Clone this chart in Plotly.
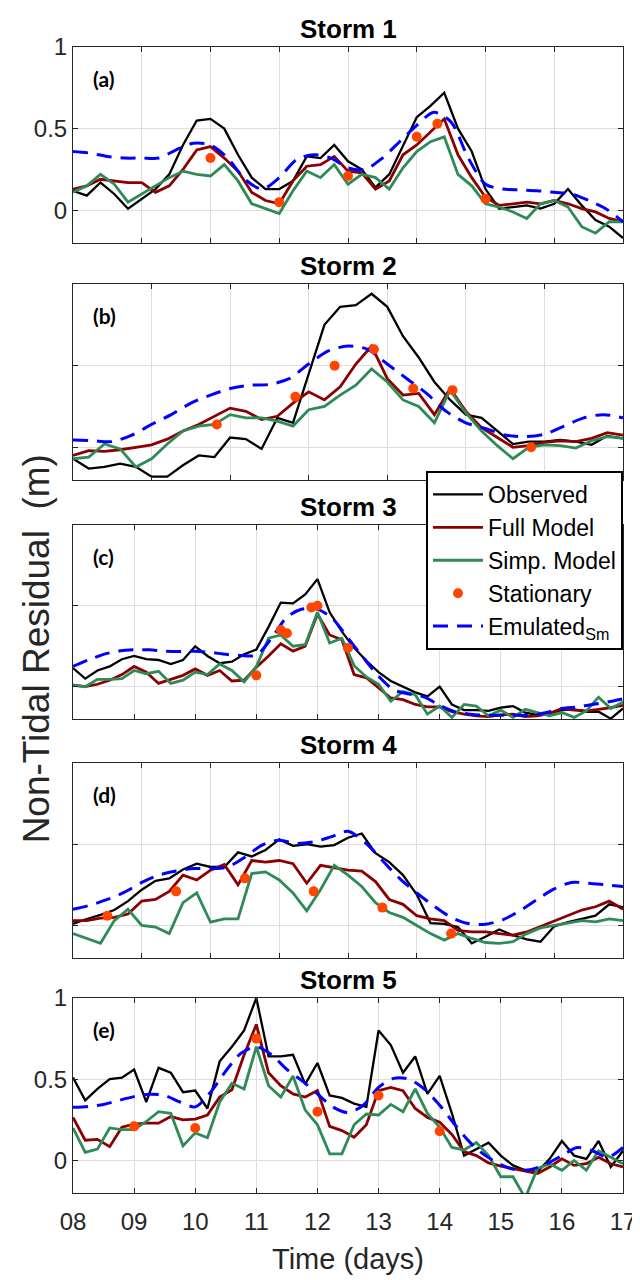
import numpy as np
import plotly.graph_objects as go

# ---------------- data ----------------
storm_titles = ["Storm 1", "Storm 2", "Storm 3", "Storm 4", "Storm 5"]
panel_labels = ["(a)", "(b)", "(c)", "(d)", "(e)"]
durations = [8, 7, 9, 8, 9]
start_days = [0, 0, 0, 0, 8]
xtick_labels = ["08", "09", "10", "11", "12", "13", "14", "15", "16", "17"]
ytick_vals = [0, 0.5, 1]
ytick_text = ["0", "0.5", "1"]

# Storm 1 (0.2-day samples; emulated 0.25-day samples)
obs1 = [0.12, 0.09, 0.17, 0.10, 0.01, 0.07, 0.13, 0.22, 0.40, 0.55, 0.56, 0.50, 0.34, 0.20, 0.13, 0.13, 0.18, 0.33, 0.32, 0.40,
        0.30, 0.25, 0.14, 0.22, 0.40, 0.57, 0.64, 0.72, 0.50, 0.36, 0.13, 0.01, 0.02, 0.03, 0.01, 0.04, 0.13, 0.03, -0.06, -0.10, -0.17]
full1 = [0.13, 0.15, 0.19, 0.18, 0.17, 0.17, 0.11, 0.15, 0.25, 0.37, 0.39, 0.32, 0.24, 0.11, 0.06, 0.04, 0.18, 0.27, 0.28, 0.33,
         0.24, 0.23, 0.13, 0.18, 0.34, 0.40, 0.48, 0.56, 0.34, 0.20, 0.08, 0.03, 0.04, 0.05, 0.04, 0.06, 0.04, 0.01, -0.01, -0.05, -0.07]
simp1 = [0.11, 0.15, 0.22, 0.16, 0.05, 0.10, 0.15, 0.20, 0.24, 0.22, 0.21, 0.28, 0.18, 0.04, 0.01, -0.02, 0.12, 0.24, 0.20, 0.28,
         0.16, 0.22, 0.20, 0.13, 0.26, 0.36, 0.42, 0.45, 0.22, 0.15, 0.04, 0.02, -0.01, -0.05, 0.04, 0.06, 0.02, -0.10, -0.14, -0.07, -0.07]
emu1 = [0.36, 0.35, 0.33, 0.32, 0.32, 0.32, 0.37, 0.41, 0.40, 0.32, 0.19, 0.13, 0.20, 0.31, 0.34, 0.32, 0.26, 0.25, 0.32, 0.42,
        0.52, 0.60, 0.54, 0.32, 0.16, 0.13, 0.125, 0.12, 0.11, 0.10, 0.06, 0.01, -0.07]
stat1_x = [2.0, 3.0, 4.0, 5.0, 5.3, 6.0]
stat1_y = [0.32, 0.05, 0.21, 0.45, 0.53, 0.07]

# Storm 2
obs2 = [-0.07, -0.13, -0.12, -0.10, -0.12, -0.18, -0.18, -0.11, -0.05, -0.06, 0.06, 0.05, -0.01, 0.18, 0.15, 0.45, 0.75, 0.86,
        0.87, 0.94, 0.86, 0.68, 0.55, 0.40, 0.29, 0.20, 0.18, 0.10, 0.02, 0.035, 0.035, 0.045, 0.035, 0.015, 0.07, 0.055]
full2 = [-0.05, -0.02, -0.025, -0.015, 0.0, 0.015, 0.05, 0.10, 0.14, 0.19, 0.24, 0.22, 0.17, 0.19, 0.27, 0.34, 0.29, 0.37,
         0.51, 0.62, 0.42, 0.32, 0.33, 0.20, 0.36, 0.22, 0.12, 0.06, 0.00, 0.01, 0.03, 0.04, 0.035, 0.055, 0.09, 0.075]
simp2 = [-0.07, -0.06, 0.02, -0.01, -0.12, -0.07, 0.02, 0.10, 0.13, 0.14, 0.20, 0.18, 0.18, 0.16, 0.13, 0.23, 0.25, 0.32,
         0.38, 0.48, 0.40, 0.29, 0.25, 0.15, 0.35, 0.21, 0.10, 0.01, -0.07, 0.00, 0.015, 0.01, -0.005, 0.04, 0.065, 0.055]
emu2 = [0.045, 0.04, 0.035, 0.075, 0.14, 0.20, 0.27, 0.32, 0.36, 0.38, 0.385, 0.42, 0.51, 0.59, 0.62, 0.60, 0.51, 0.42, 0.33,
        0.22, 0.15, 0.115, 0.075, 0.065, 0.08, 0.13, 0.18, 0.20, 0.18]
stat2_x = [1.83, 2.83, 3.33, 3.83, 4.33, 4.83, 5.83]
stat2_y = [0.14, 0.31, 0.50, 0.60, 0.36, 0.35, 0.0]

# Storm 3
obs3 = [0.115, 0.05, 0.10, 0.125, 0.17, 0.19, 0.17, 0.165, 0.14, 0.165, 0.25, 0.19, 0.145, 0.155, 0.20, 0.23, 0.37, 0.52,
        0.515, 0.57, 0.665, 0.46, 0.34, 0.24, 0.16, 0.09, 0.035, 0.0, -0.035, -0.06, 0.0, -0.11, -0.145, -0.145, -0.15, -0.13,
        -0.12, -0.16, -0.175, -0.165, -0.145, -0.14, -0.155, -0.155, -0.198, -0.135]
full3 = [0.01, 0.0, 0.015, 0.04, 0.075, 0.125, 0.09, 0.02, 0.045, 0.07, 0.11, 0.07, 0.10, 0.035, 0.04, 0.12, 0.19, 0.265,
         0.22, 0.25, 0.45, 0.32, 0.29, 0.075, 0.055, -0.01, -0.07, -0.08, -0.11, -0.125, -0.125, -0.155, -0.17, -0.18, -0.185,
         -0.175, -0.17, -0.185, -0.18, -0.165, -0.135, -0.145, -0.15, -0.14, -0.13, -0.115]
simp3 = [0.01, 0.0, 0.045, 0.045, 0.05, 0.10, 0.08, 0.095, 0.02, 0.04, 0.09, 0.075, 0.14, 0.10, 0.03, 0.125, 0.30, 0.32,
         0.25, 0.26, 0.46, 0.27, 0.30, 0.13, 0.06, 0.015, -0.09, -0.03, -0.05, -0.17, -0.12, -0.19, -0.11, -0.12, -0.18,
         -0.145, -0.19, -0.14, -0.16, -0.18, -0.16, -0.19, -0.15, -0.065, -0.135, -0.095]
emu3 = [0.125, 0.165, 0.20, 0.22, 0.228, 0.228, 0.22, 0.218, 0.219, 0.212, 0.20, 0.193, 0.195, 0.30, 0.43, 0.48, 0.48, 0.42,
        0.30, 0.18, 0.065, -0.02, -0.045, -0.065, -0.115, -0.155, -0.17, -0.177, -0.177, -0.177, -0.177, -0.16, -0.135,
        -0.125, -0.11, -0.095, -0.075]
stat3_x = [3.0, 3.4, 3.5, 3.9, 4.0, 4.5]
stat3_y = [0.07, 0.35, 0.33, 0.49, 0.50, 0.24]

# Storm 4
obs4 = [0.01, 0.04, 0.065, 0.095, 0.15, 0.22, 0.275, 0.29, 0.345, 0.38, 0.36, 0.36, 0.45, 0.425, 0.465, 0.53, 0.49, 0.50,
        0.485, 0.495, 0.54, 0.566, 0.445, 0.39, 0.31, 0.19, 0.015, 0.01, -0.01, -0.11, -0.07, -0.025, -0.06, -0.085, -0.10,
        -0.005, 0.02, 0.04, 0.06, 0.13, 0.113]
full4 = [0.03, 0.03, 0.045, 0.05, 0.07, 0.15, 0.16, 0.21, 0.31, 0.28, 0.34, 0.375, 0.25, 0.40, 0.39, 0.40, 0.38, 0.26, 0.37,
         0.355, 0.34, 0.335, 0.27, 0.16, 0.13, 0.06, 0.04, 0.03, -0.03, -0.04, -0.04, -0.05, -0.06, -0.04, -0.005, 0.03,
         0.065, 0.095, 0.115, 0.15, 0.10]
simp4 = [-0.05, -0.08, -0.11, 0.03, 0.10, 0.0, -0.01, -0.05, 0.14, 0.20, 0.02, 0.04, 0.04, 0.32, 0.33, 0.28, 0.20, 0.09, 0.22,
         0.37, 0.31, 0.24, 0.14, 0.08, 0.05, 0.0, -0.05, -0.09, -0.05, -0.08, -0.105, -0.11, -0.10, -0.05, -0.015, 0.0, 0.015,
         0.03, 0.022, 0.04, 0.03]
emu4 = [0.10, 0.125, 0.16, 0.205, 0.265, 0.31, 0.335, 0.35, 0.35, 0.36, 0.42, 0.495, 0.525, 0.505, 0.515, 0.545, 0.58, 0.51,
        0.40, 0.29, 0.20, 0.12, 0.05, 0.012, 0.008, 0.035, 0.09, 0.16, 0.225, 0.265, 0.26, 0.25, 0.24]
stat4_x = [0.5, 1.5, 2.5, 3.5, 4.5, 5.5]
stat4_y = [0.06, 0.21, 0.29, 0.21, 0.11, -0.05]

# Storm 5 (days 08 - 17)
obs5 = [0.51, 0.37, 0.44, 0.50, 0.51, 0.56, 0.36, 0.57, 0.54, 0.42, 0.43, 0.32, 0.61, 0.70, 0.80, 1.0, 0.64, 0.64, 0.65, 0.47,
        0.60, 0.40, 0.385, 0.35, 0.33, 0.80, 0.71, 0.54, 0.64, 0.41, 0.52, 0.29, 0.03, 0.07, 0.11, 0.03, -0.03, -0.06, -0.07,
        0.01, 0.12, 0.03, 0.01, 0.12, -0.04, 0.06]
full5 = [0.265, 0.125, 0.13, 0.085, 0.205, 0.224, 0.23, 0.23, 0.27, 0.25, 0.255, 0.28, 0.39, 0.435, 0.65, 0.837, 0.54, 0.46,
         0.41, 0.39, 0.43, 0.21, 0.184, 0.143, 0.22, 0.43, 0.45, 0.43, 0.32, 0.265, 0.235, 0.16, 0.055, 0.03, -0.015, -0.035,
         -0.05, -0.065, -0.08, -0.04, 0.01, -0.03, -0.02, 0.02, -0.02, -0.04]
simp5 = [0.20, 0.05, 0.07, 0.20, 0.19, 0.19, 0.24, 0.30, 0.29, 0.09, 0.17, 0.14, 0.36, 0.475, 0.44, 0.70, 0.46, 0.39, 0.52,
         0.31, 0.22, 0.041, 0.041, 0.22, 0.286, 0.28, 0.345, 0.30, 0.44, 0.29, 0.204, 0.08, 0.065, 0.11, 0.03, -0.10, -0.10,
         -0.23, -0.05, -0.02, -0.06, 0.0, -0.06, 0.06, 0.02, -0.02]
emu5 = [0.327, 0.333, 0.345, 0.37, 0.393, 0.408, 0.40, 0.36, 0.33, 0.42, 0.55, 0.66, 0.70, 0.65, 0.56, 0.49, 0.41, 0.33,
        0.295, 0.34, 0.45, 0.505, 0.50, 0.44, 0.34, 0.22, 0.11, 0.03, -0.025, -0.058, -0.055, -0.02, 0.03, 0.08, 0.06, 0.02, 0.08]
stat5_x = [9, 10, 11, 12, 13, 14]
stat5_y = [0.21, 0.20, 0.75, 0.30, 0.40, 0.18]

obs_all = [obs1, obs2, obs3, obs4, obs5]
full_all = [full1, full2, full3, full4, full5]
simp_all = [simp1, simp2, simp3, simp4, simp5]
emu_all = [emu1, emu2, emu3, emu4, emu5]
statx_all = [stat1_x, stat2_x, stat3_x, stat4_x, stat5_x]
staty_all = [stat1_y, stat2_y, stat3_y, stat4_y, stat5_y]

# ---------------- styling ----------------
FONT = "Liberation Sans, Arial, sans-serif"
C_OBS = "#000000"
C_FULL = "#8B0000"
C_SIMP = "#2E8B57"
C_STAT = "#FF4500"
C_EMU = "#0000FF"
AXC = "#262626"
GRIDC = "#dedede"

y_domains = [[0.829, 1.0], [0.6222, 0.7932], [0.4136, 0.5829], [0.2051, 0.3752], [0.0, 0.1702]]

fig = go.Figure()
names = ["Observed", "Full Model", "Simp. Model", "Stationary", "Emulated<sub>Sm</sub>"]

for i in range(5):
    xa = "x" if i == 0 else f"x{i+1}"
    ya = "y" if i == 0 else f"y{i+1}"
    s0 = start_days[i]
    n = len(obs_all[i])
    t = np.round(s0 + 0.2 * np.arange(n), 3)
    te = np.round(s0 + 0.25 * np.arange(len(emu_all[i])), 3)
    show = (i == 0)
    fig.add_trace(go.Scatter(x=t, y=obs_all[i], mode="lines", name=names[0], legendgroup="obs", showlegend=show,
                             line=dict(color=C_OBS, width=2.3), xaxis=xa, yaxis=ya))
    fig.add_trace(go.Scatter(x=t, y=full_all[i], mode="lines", name=names[1], legendgroup="full", showlegend=show,
                             line=dict(color=C_FULL, width=2.8), xaxis=xa, yaxis=ya))
    fig.add_trace(go.Scatter(x=t, y=simp_all[i], mode="lines", name=names[2], legendgroup="simp", showlegend=show,
                             line=dict(color=C_SIMP, width=2.8), xaxis=xa, yaxis=ya))
    fig.add_trace(go.Scatter(x=te, y=emu_all[i], mode="lines", name=names[4], legendgroup="emu", showlegend=False,
                             line=dict(color=C_EMU, width=3, dash="15px,9px", shape="spline", smoothing=0.8),
                             xaxis=xa, yaxis=ya))
    fig.add_trace(go.Scatter(x=statx_all[i], y=staty_all[i], mode="markers", name=names[3], legendgroup="stat",
                             showlegend=show, marker=dict(color=C_STAT, size=10), xaxis=xa, yaxis=ya))

# legend entry for emulated after stationary
fig.add_trace(go.Scatter(x=[None], y=[None], mode="lines", name=names[4], legendgroup="emu", showlegend=True,
                         line=dict(color=C_EMU, width=3, dash="15px,9px"), xaxis="x", yaxis="y"))

layout = dict(
    width=640, height=1280,
    margin=dict(l=65, r=18, t=39, b=95),
    paper_bgcolor="white", plot_bgcolor="white",
    font=dict(family=FONT, color="#000000"),
    showlegend=True,
    legend=dict(x=1.0, xanchor="right", y=0.630, yanchor="top", bgcolor="white",
                bordercolor="black", borderwidth=2, font=dict(size=23, family=FONT, color="#000000"),
                itemwidth=50, tracegroupgap=0, traceorder="normal"),
)

annotations = []
for i in range(5):
    xk = "xaxis" if i == 0 else f"xaxis{i+1}"
    yk = "yaxis" if i == 0 else f"yaxis{i+1}"
    s0 = start_days[i]
    xaxis = dict(domain=[0, 1], anchor="y" if i == 0 else f"y{i+1}",
                 range=[s0, s0 + durations[i]], tick0=s0, dtick=1,
                 showgrid=True, gridcolor=GRIDC, gridwidth=1, zeroline=False,
                 showline=True, mirror="ticks", linecolor=AXC, linewidth=1,
                 ticks="inside", ticklen=5, tickcolor=AXC,
                 showticklabels=(i == 4),
                 tickfont=dict(size=24, family=FONT, color=AXC))
    if i == 4:
        xaxis.update(tickmode="array", tickvals=list(range(8, 18)), ticktext=xtick_labels, ticklabelstandoff=7)
    yaxis = dict(domain=y_domains[i], anchor="x" if i == 0 else f"x{i+1}",
                 range=[-0.2, 1.0], tickmode="array", tickvals=ytick_vals, ticktext=ytick_text,
                 showgrid=True, gridcolor=GRIDC, gridwidth=1, zeroline=False,
                 showline=True, mirror="ticks", linecolor=AXC, linewidth=1,
                 ticks="inside", ticklen=5, tickcolor=AXC,
                 showticklabels=(i in (0, 4)),
                 tickfont=dict(size=24, family=FONT, color=AXC))
    layout[xk] = xaxis
    layout[yk] = yaxis
    xr = "x domain" if i == 0 else f"x{i+1} domain"
    yr = "y domain" if i == 0 else f"y{i+1} domain"
    annotations.append(dict(text=f"<b>{storm_titles[i]}</b>", xref=xr, yref=yr, x=0.5, y=1.0,
                            xanchor="center", yanchor="bottom", yshift=1, showarrow=False,
                            font=dict(size=26, family=FONT, color="#000000")))
    annotations.append(dict(text=f"<b>{panel_labels[i]}</b>", xref=xr, yref=yr, x=0.032, y=0.84,
                            xanchor="left", yanchor="middle", showarrow=False,
                            font=dict(size=21, family="Lato, Noto Sans, sans-serif", color="#000000")))

annotations.append(dict(text="Time (days)", xref="paper", yref="paper", x=0.5, y=-0.058,
                        xanchor="center", yanchor="middle", showarrow=False,
                        font=dict(size=29, family=FONT, color=AXC)))
annotations.append(dict(text="Non-Tidal Residual&nbsp; (m)", xref="paper", yref="paper", x=-0.066, y=0.475,
                        xanchor="center", yanchor="middle", textangle=-90, showarrow=False,
                        font=dict(size=37, family=FONT, color=AXC)))
layout["annotations"] = annotations

fig.update_layout(**layout)
fig.write_html("out.html")
